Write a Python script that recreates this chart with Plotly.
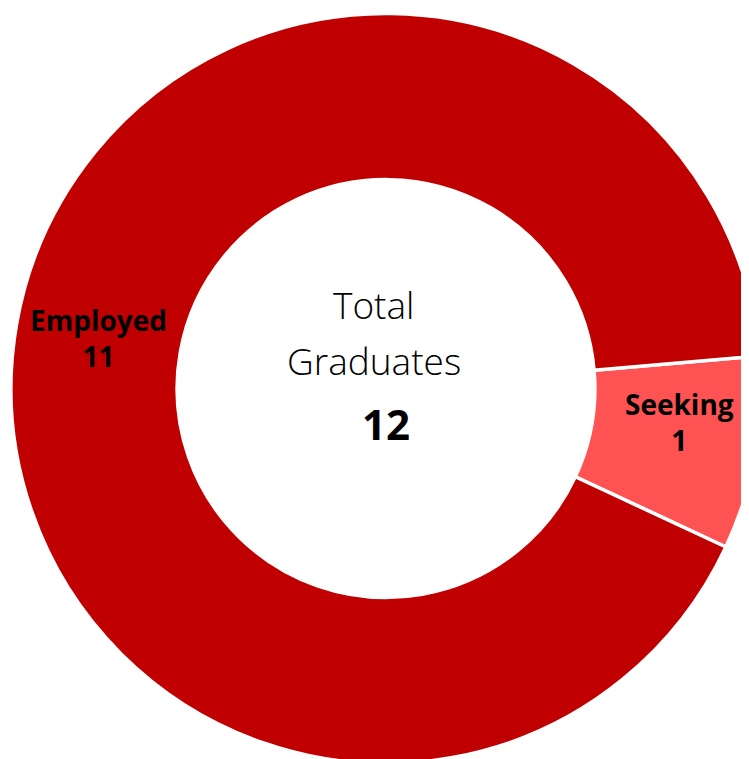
import plotly.graph_objects as go

labels = ["Seeking", "Employed"]
values = [1, 11]
colors = ["#FF5252", "#C00000"]
total_label = ["Total", "Graduates"]
total_value = sum(values)

W, H = 753, 761
ML = 3
PW, PH = W - ML, H

fig = go.Figure(go.Pie(
    labels=labels,
    values=values,
    hole=0.557,
    sort=False,
    direction="clockwise",
    rotation=85,
    marker=dict(colors=colors, line=dict(color="white", width=3.5)),
    texttemplate=["<b>%{label}<br>%{value}</b><br>&nbsp;", "<b>%{label}<br>%{value}</b>"],
    textposition="inside",
    insidetextorientation="horizontal",
    textfont=dict(family="Open Sans", size=28, color="black"),
    hoverinfo="label+value",
    showlegend=False,
))

def px(x):
    return (x - 8 - ML) / PW
def py(y):
    return 1 - (y - 8) / PH

fig.add_annotation(x=px(373.5), y=py(304), xref="paper", yref="paper",
                   text=total_label[0], showarrow=False, xanchor="center", yanchor="middle",
                   font=dict(family="Open Sans", size=37, color="black", weight=300))
fig.add_annotation(x=px(374), y=py(360), xref="paper", yref="paper",
                   text=total_label[1], showarrow=False, xanchor="center", yanchor="middle",
                   font=dict(family="Open Sans", size=37, color="black", weight=300))
fig.add_annotation(x=px(385.5), y=py(423), xref="paper", yref="paper",
                   text="<b>%d</b>" % total_value, showarrow=False, xanchor="center", yanchor="middle",
                   font=dict(family="Open Sans", size=42, color="black"))

fig.update_layout(
    width=W, height=H,
    margin=dict(l=ML, r=0, t=0, b=0),
    paper_bgcolor="white",
    plot_bgcolor="white",
    uniformtext=dict(minsize=28, mode="show"),
)

fig.write_html(
    "out.html",
    post_script="document.documentElement.style.overflow='hidden';document.body.style.overflow='hidden';",
)
